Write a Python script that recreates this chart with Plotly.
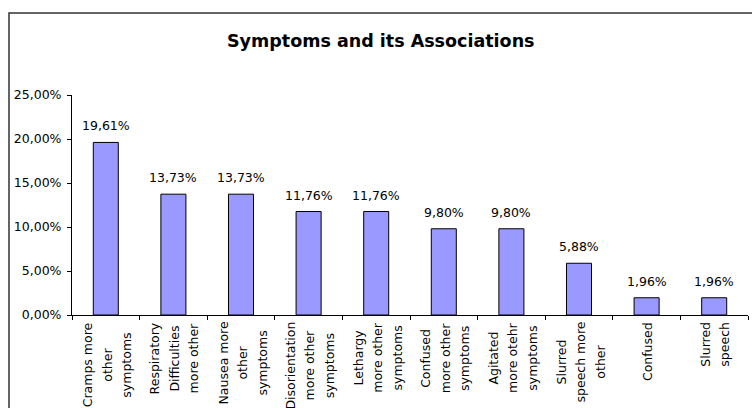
import plotly.graph_objects as go

label_lines = [
    ["Cramps more", "other", "symptoms"],
    ["Respiratory", "Difficulties", "more other"],
    ["Nausea more", "other", "symptoms"],
    ["Disorientation", "more other", "symptoms"],
    ["Lethargy", "more other", "symptoms"],
    ["Confused", "more other", "symptoms"],
    ["Agitated", "more otehr", "symptoms"],
    ["Slurred", "speech more", "other"],
    ["Confused"],
    ["Slurred", "speech"],
]
categories = [" ".join(l) for l in label_lines]
values = [19.61, 13.73, 13.73, 11.76, 11.76, 9.80, 9.80, 5.88, 1.96, 1.96]
y_ticks = [0, 5, 10, 15, 20, 25]
y_ticktext = [f"{v:.2f}".replace(".", ",") + "%" for v in y_ticks]
title_text = "Symptoms and its Associations"

FONT = "DejaVu Sans"
W, H = 752, 408
L, R, T, B = 72, 4, 95, 93
pw, ph = W - L - R, H - T - B

fig = go.Figure()
fig.add_trace(go.Bar(
    x=categories, y=values,
    marker=dict(color="#9999FF", line=dict(color="black", width=1)),
    hoverinfo="skip",
))

annotations = []
for c, v in zip(categories, values):
    annotations.append(dict(
        x=c, y=v, xref="x", yref="y", text=f"{v:.2f}".replace(".", ",") + "%",
        showarrow=False, yanchor="bottom", xanchor="center", yshift=7,
        font=dict(family=FONT, size=12.5, color="black"),
    ))

for c, lines in zip(categories, label_lines):
    txt = "<br>".join(f"<span style='font-size:12.5px'>{s}</span>" for s in lines)
    annotations.append(dict(
        x=c, y=0, xref="x", yref="y", text=txt, showarrow=False,
        textangle=-90, align="center", xanchor="center", yanchor="top",
        yshift=-5, xshift=1,
        font=dict(family=FONT, size=15, color="black"),
    ))

annotations.append(dict(
    x=(381 - L) / pw, y=(H - B - 41) / ph, xref="paper", yref="paper",
    text="<b>" + title_text + "</b>",
    showarrow=False, xanchor="center", yanchor="middle",
    font=dict(family=FONT, size=17.5, color="black"),
))

shapes = [dict(
    type="rect", xref="paper", yref="paper",
    x0=(9 - L) / pw, x1=(W + 10 - L) / pw,
    y0=-(B + 10) / ph, y1=(H - B - 13) / ph,
    line=dict(color="#333333", width=1.5), fillcolor="rgba(0,0,0,0)", layer="below",
)]

fig.update_layout(
    width=W, height=H,
    margin=dict(l=L, r=R, t=T, b=B, pad=0),
    paper_bgcolor="white", plot_bgcolor="white",
    showlegend=False,
    bargap=0.63,
    annotations=annotations,
    shapes=shapes,
    xaxis=dict(
        type="category", showticklabels=False, ticks="outside", ticklen=4,
        tickcolor="black", tickson="boundaries", showline=True, linecolor="black",
        linewidth=1, showgrid=False, zeroline=False,
    ),
    yaxis=dict(
        range=[0, 25], tickvals=y_ticks, ticktext=y_ticktext,
        ticks="outside", ticklen=4, tickcolor="black", showline=True,
        linecolor="black", linewidth=1, showgrid=False, zeroline=False,
        ticklabelstandoff=3,
        tickfont=dict(family=FONT, size=12.5, color="black"),
    ),
)

fig.write_html("out.html")
